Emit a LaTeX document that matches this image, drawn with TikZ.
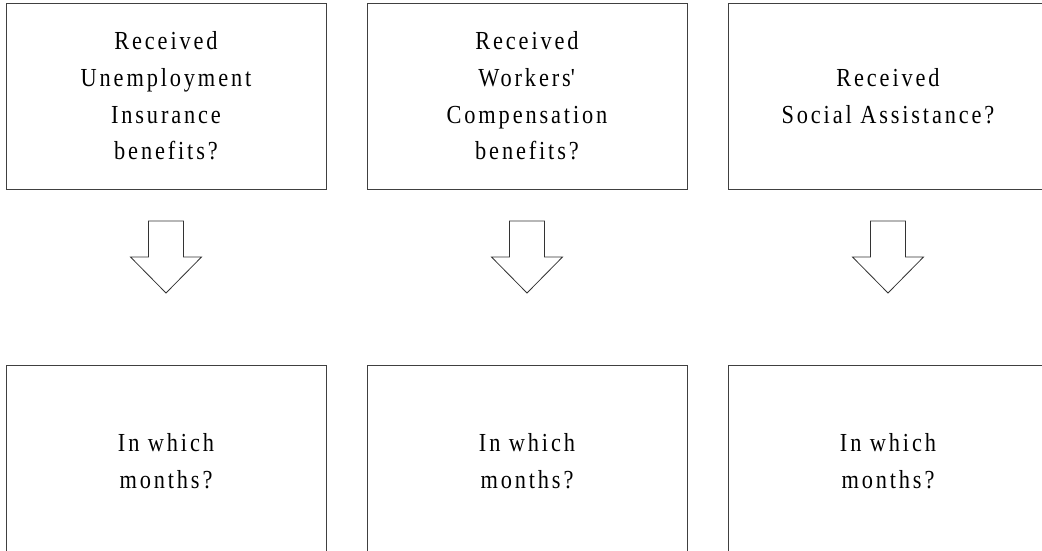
\documentclass[tikz,border=0pt]{standalone}
\usepackage{fontspec}
\setmainfont{Liberation Serif}[LetterSpace=11, FakeStretch=0.86]
\usetikzlibrary{positioning}

\begin{document}
\begin{tikzpicture}[x=1pt, y=1pt,
        qbox/.style={draw=black!75, line width=0.9pt, minimum width=320pt, minimum height=186pt,
            align=center, inner sep=0pt, outer sep=0pt, font=\fontsize{26}{36.7}\selectfont},
        mbox/.style={qbox, minimum height=192pt},
        arrowline/.style={draw=black!80, line width=0.8pt, line join=miter}]
    \useasboundingbox (0,0) rectangle (1042,-550);

    % question boxes
    \node[qbox] (ui) at (166,-96) {Received\\Unemployment\\Insurance\\benefits?};
    \node[qbox, right=41pt of ui] (wc) {Received\\Workers\textquotesingle\\Compensation\\benefits?};
    \node[qbox, right=41pt of wc] (sa) {Received\\Social Assistance?};

    % month boxes
    \node[mbox, below=176pt of ui] (uim) {In which\\months?};
    \node[mbox, below=176pt of wc] (wcm) {In which\\months?};
    \node[mbox, below=176pt of sa] (sam) {In which\\months?};

    \foreach \q in {ui,wc,sa} {
        \begin{scope}[shift={(\q.south)}]
            \draw[arrowline] (-17.5,-32) -- (-17.5,-68) -- (-35.5,-68) -- (0,-104)
                -- (35.5,-68) -- (17.5,-68) -- (17.5,-32) -- cycle;
        \end{scope}
    }
\end{tikzpicture}
\end{document}
